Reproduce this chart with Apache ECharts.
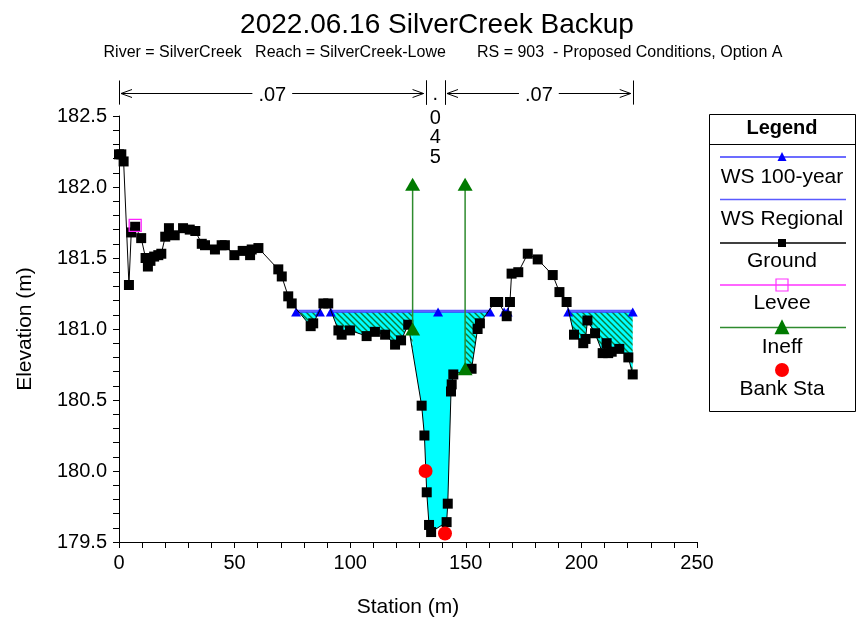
<!DOCTYPE html>
<html><head><meta charset="utf-8">
<script src="https://cdn.jsdelivr.net/npm/echarts@6/dist/echarts.min.js"></script>
<style>html,body{margin:0;padding:0;background:#fff}#c{width:861px;height:625px}</style>
</head><body><div id="c"></div>
<script>
// ---------------- data ----------------
const titleText = '2022.06.16 SilverCreek Backup';
const subtitleText = 'River = SilverCreek   Reach = SilverCreek-Lowe       RS = 903  - Proposed Conditions, Option A';

const groundX = [0, 1, 2, 4.3, 5.3, 7, 9.6, 11.5, 12.5, 13.6, 15.2, 17, 18.3, 20, 21.6, 24.1, 27.7, 30.6, 33, 35.8,
  37.2, 41.5, 44.4, 45.8, 49.9, 53.5, 56.7, 57.4, 60.3, 68.9, 70.4, 73.2, 74.7, 82.9, 84, 88.4, 90.5, 94.9, 96.3, 99.9,
  107.1, 110.7, 115.1, 119.4, 122, 125.1, 130.9, 132.1, 133.1, 134.1, 135, 141.7, 142.2, 143.6, 143.9, 144.6, 152.5, 155.1, 156.1, 162.6,
  164, 167.7, 169.1, 169.8, 172.7, 176.8, 181.1, 187.6, 190.5, 193.6, 196.8, 200.8, 201.8, 202.6, 205.9, 209.2, 210.9, 211.6, 213.1, 216.4,
  220.3, 222.2];
const groundY = [182.23, 182.23, 182.18, 181.31, 181.68, 181.72, 181.64, 181.50, 181.44, 181.48, 181.51, 181.52, 181.53, 181.65, 181.71, 181.66, 181.71, 181.70, 181.69, 181.60,
  181.59, 181.56, 181.59, 181.59, 181.52, 181.55, 181.52, 181.56, 181.57, 181.42, 181.37, 181.23, 181.18, 181.02, 181.04, 181.18, 181.18, 180.99, 180.96, 180.99,
  180.95, 180.98, 180.96, 180.89, 180.92, 181.03, 180.46, 180.25, 179.85, 179.62, 179.57, 179.64, 179.77, 180.56, 180.61, 180.68, 180.72, 181.00, 181.04, 181.19,
  181.19, 181.09, 181.19, 181.39, 181.40, 181.53, 181.49, 181.38, 181.26, 181.19, 180.96, 180.90, 180.93, 181.06, 180.97, 180.83, 180.90, 180.83, 180.84, 180.86,
  180.80, 180.68];

const leveeX = [7.0];
const leveeY = [181.73];

const ws100Elev = 181.12;
const wsRegionalElev = 181.13;
// WS stations and the segment each belongs to (segments are separated by dry ground)
const wsStations = [76.6, 86.9, 91.6, 138.0, 160.5, 166.6, 168.1, 194.3, 222.2];
const wsSegment  = [0, 0, 1, 1, 1, 2, 2, 3, 3];

const ineffLeftX = [127.0, 127.0];
const ineffLeftY = [181.00, 182.02];
const ineffRightX = [149.7, 149.7];
const ineffRightY = [180.72, 182.02];

const bankX = [132.6, 141.0];
const bankY = [180.00, 179.56];

// flow area limits: main channel between ineffective stations, hatched ineffective overbanks
const mainFlowX = [127.0, 149.7];
const leftIneffFlowX = [76.6, 127.0];
const rightIneffFlowX = [149.7, 222.2];

// Manning's n breaks
const nStations = [0, 132.6, 141.0, 222.2];
const nValues = ['.07', '.045', '.07'];
const nArrowElev = 182.66, nBarTop = 182.75, nBarBottom = 182.58;

const xMin = 0, xMax = 250, xTickStep = 10, xLabelStep = 50;
const yMin = 179.5, yMax = 182.5, yTickStep = 0.1, yLabelStep = 0.5;

// ---------------- helpers ----------------
const FONT = '"Liberation Sans", Arial, Helvetica, sans-serif';
const mctx = document.createElement('canvas').getContext('2d');
function textW(t, size, weight) { mctx.font = (weight || 'normal') + ' ' + size + 'px ' + FONT; return mctx.measureText(t).width; }

function hatchPattern() {
  const s = 6;
  const c = document.createElement('canvas'); c.width = s; c.height = s;
  const g = c.getContext('2d');
  g.fillStyle = '#00ffff'; g.fillRect(0, 0, s, s);
  g.strokeStyle = '#0a7a3a'; g.lineWidth = 1.4;
  g.beginPath();
  g.moveTo(-1, -1); g.lineTo(s + 1, s + 1);
  g.moveTo(-1, s - 1); g.lineTo(1, s + 1);
  g.moveTo(s - 1, -1); g.lineTo(s + 1, 1);
  g.stroke();
  return c;
}
const hatch = { image: hatchPattern(), repeat: 'repeat' };

const ground = groundX.map((x, i) => [x, groundY[i]]);
// white mask below ground, carried flat to the axis end so no fill sliver shows past the last station
const groundMask = ground.concat([[xMax, groundY[groundY.length - 1]]]);
function wsData(elev) {
  const out = [];
  wsStations.forEach((x, i) => {
    if (i > 0 && wsSegment[i] !== wsSegment[i - 1]) out.push([(x + wsStations[i - 1]) / 2, '-']);
    out.push([x, elev]);
  });
  return out;
}
function isMult(v, step) { const r = v / step; return Math.abs(r - Math.round(r)) < 1e-6; }

const chart = echarts.init(document.getElementById('c'), null, { renderer: 'canvas' });

// legend drawn as graphic (icon above text, like the original)
const LG = { x: 709, y: 114, w: 146, h: 297 };
const lx1 = 720, lx2 = 846, lcx = 782;
const legendEls = [
  { type: 'rect', shape: { x: LG.x + 0.5, y: LG.y + 0.5, width: LG.w, height: LG.h }, style: { fill: '#fff', stroke: '#000', lineWidth: 1 } },
  { type: 'line', shape: { x1: LG.x, y1: 144.5, x2: LG.x + LG.w, y2: 144.5 }, style: { stroke: '#000', lineWidth: 1 } },
  { type: 'text', style: { text: 'Legend', x: lcx, y: 128, align: 'center', verticalAlign: 'middle', font: 'bold 20px ' + FONT, fill: '#000' } },
];
const legendItems = [
  { name: 'WS 100-year', ly: 157, ty: 177, color: '#3b3bff', marker: 'tri', mcolor: '#0000ff', ms: 9 },
  { name: 'WS Regional', ly: 199.5, ty: 219, color: '#5a5aff', marker: null },
  { name: 'Ground', ly: 243, ty: 261, color: '#000', marker: 'square', mcolor: '#000', ms: 8 },
  { name: 'Levee', ly: 285, ty: 303, color: '#ff33ff', marker: 'osquare', mcolor: '#ff33ff', ms: 12 },
  { name: 'Ineff', ly: 327.5, ty: 347, color: '#2e8b2e', marker: 'tri', mcolor: '#007a00', ms: 15 },
  { name: 'Bank Sta', ly: 370, ty: 389, color: null, marker: 'circle', mcolor: '#ff0000', ms: 14 },
];
legendItems.forEach(it => {
  if (it.color) legendEls.push({ type: 'line', shape: { x1: lx1, y1: it.ly, x2: lx2, y2: it.ly }, style: { stroke: it.color, lineWidth: 1.5 } });
  const s = it.ms;
  if (it.marker === 'tri') legendEls.push({ type: 'polygon', shape: { points: [[lcx, it.ly - s * 0.55], [lcx - s / 2, it.ly + s * 0.45], [lcx + s / 2, it.ly + s * 0.45]] }, style: { fill: it.mcolor } });
  if (it.marker === 'square') legendEls.push({ type: 'rect', shape: { x: lcx - s / 2, y: it.ly - s / 2, width: s, height: s }, style: { fill: it.mcolor } });
  if (it.marker === 'osquare') legendEls.push({ type: 'rect', shape: { x: lcx - s / 2, y: it.ly - s / 2, width: s, height: s }, style: { fill: 'none', stroke: it.mcolor, lineWidth: 1.2 } });
  if (it.marker === 'circle') legendEls.push({ type: 'circle', shape: { cx: lcx, cy: it.ly, r: s / 2 }, style: { fill: it.mcolor } });
  legendEls.push({ type: 'text', style: { text: it.name, x: lcx, y: it.ty, align: 'center', verticalAlign: 'middle', font: '21px ' + FONT, fill: '#000' } });
});

const titleSize = 28, subSize = 16, tickSize = 20, nameSize = 21;
const option = {
  animation: false,
  backgroundColor: '#fff',
  title: [
    { text: titleText, left: 432 - textW(titleText, titleSize) / 2, top: 6, textStyle: { fontFamily: FONT, fontSize: titleSize, fontWeight: 'normal', color: '#000' } },
    { text: subtitleText, left: 438 - textW(subtitleText, subSize) / 2, top: 40, textStyle: { fontFamily: FONT, fontSize: subSize, fontWeight: 'normal', color: '#000' } }
  ],
  grid: { left: 119, right: 164, top: 116, bottom: 83, containLabel: false },
  xAxis: {
    type: 'value', min: xMin, max: xMax, interval: xTickStep, z: 10,
    name: 'Station (m)', nameLocation: 'middle', nameGap: 55,
    nameTextStyle: { fontFamily: FONT, fontSize: nameSize, color: '#000' },
    axisLine: { show: true, onZero: false, lineStyle: { color: '#000', width: 1 } },
    axisTick: { show: true, length: 6, lineStyle: { color: '#000' } },
    axisLabel: { fontFamily: FONT, fontSize: tickSize, color: '#000', margin: 11, formatter: v => isMult(v, xLabelStep) ? String(Math.round(v)) : '' },
    splitLine: { show: false }
  },
  yAxis: {
    type: 'value', min: yMin, max: yMax, interval: yTickStep, z: 10,
    name: 'Elevation (m)', nameLocation: 'middle', nameGap: 83, nameRotate: 90,
    nameTextStyle: { fontFamily: FONT, fontSize: nameSize, color: '#000' },
    axisLine: { show: true, onZero: false, lineStyle: { color: '#000', width: 1 } },
    axisTick: { show: true, length: 6, lineStyle: { color: '#000' } },
    axisLabel: { fontFamily: FONT, fontSize: tickSize, color: '#000', margin: 12, formatter: v => isMult(v, yLabelStep) ? v.toFixed(1) : '' },
    splitLine: { show: false }
  },
  graphic: legendEls,
  series: [
    { name: 'mainFlow', type: 'line', silent: true, z: 1, symbol: 'none', lineStyle: { opacity: 0, width: 0 },
      areaStyle: { color: '#00ffff', opacity: 1, origin: 'start' }, data: mainFlowX.map(x => [x, ws100Elev]) },
    { name: 'leftIneffFlow', type: 'line', silent: true, z: 1, symbol: 'none', lineStyle: { opacity: 0, width: 0 },
      areaStyle: { color: hatch, opacity: 1, origin: 'start' }, data: leftIneffFlowX.map(x => [x, ws100Elev]) },
    { name: 'rightIneffFlow', type: 'line', silent: true, z: 1, symbol: 'none', lineStyle: { opacity: 0, width: 0 },
      areaStyle: { color: hatch, opacity: 1, origin: 'start' }, data: rightIneffFlowX.map(x => [x, ws100Elev]) },
    { name: 'groundMask', type: 'line', silent: true, z: 2, symbol: 'none', lineStyle: { opacity: 0, width: 0 },
      areaStyle: { color: '#ffffff', opacity: 1, origin: 'start' }, data: groundMask },
    { name: 'WS Regional', type: 'line', z: 3, symbol: 'none', connectNulls: false,
      lineStyle: { color: '#5a5aff', width: 1.5 }, data: wsData(wsRegionalElev) },
    { name: 'WS 100-year', type: 'line', z: 4, symbol: 'triangle', symbolSize: [10, 9], connectNulls: false,
      itemStyle: { color: '#0000ff', opacity: 1 }, lineStyle: { color: '#3b3bff', width: 1.5 }, data: wsData(ws100Elev) },
    { name: 'Ground', type: 'line', z: 5, symbol: 'rect', symbolSize: 10,
      itemStyle: { color: '#000', opacity: 1 }, lineStyle: { color: '#000', width: 1 }, data: ground },
    { name: 'Levee', type: 'scatter', z: 6, symbol: 'rect', symbolSize: 12,
      itemStyle: { color: 'rgba(0,0,0,0)', borderColor: '#ff22ff', borderWidth: 1.3, opacity: 1 }, data: leveeX.map((x, i) => [x, leveeY[i]]) },
    { name: 'Ineff', type: 'line', z: 7, symbol: 'triangle', symbolSize: [15, 13],
      itemStyle: { color: '#007a00', opacity: 1 }, lineStyle: { color: '#2e8b2e', width: 1.5 }, data: ineffLeftX.map((x, i) => [x, ineffLeftY[i]]) },
    { name: 'Ineff R', type: 'line', z: 7, symbol: 'triangle', symbolSize: [15, 13],
      itemStyle: { color: '#007a00', opacity: 1 }, lineStyle: { color: '#2e8b2e', width: 1.5 }, data: ineffRightX.map((x, i) => [x, ineffRightY[i]]) },
    { name: 'Bank Sta', type: 'scatter', z: 8, symbol: 'circle', symbolSize: 14,
      itemStyle: { color: '#ff0000', opacity: 1 }, data: bankX.map((x, i) => [x, bankY[i]]) },
    { name: 'n values', type: 'custom', z: 9, silent: true, clip: false,
      encode: { x: [0, 1], y: 2 },
      data: nValues.map((v, i) => [nStations[i], nStations[i + 1], nArrowElev]),
      renderItem: function (params, api) {
        const i = params.dataIndex;
        const x1 = api.value(0), x2 = api.value(1);
        const t1 = api.coord([x1, nBarTop]), b1 = api.coord([x1, nBarBottom]);
        const t2 = api.coord([x2, nBarTop]), b2 = api.coord([x2, nBarBottom]);
        const a = api.coord([x1, nArrowElev]), b = api.coord([x2, nArrowElev]);
        const ls = { stroke: '#000', lineWidth: 1 };
        const ch = [];
        const px = v => Math.round(v) + 0.5;
        ch.push({ type: 'line', shape: { x1: px(t1[0]), y1: t1[1], x2: px(b1[0]), y2: b1[1] }, style: ls });
        ch.push({ type: 'line', shape: { x1: px(t2[0]), y1: t2[1], x2: px(b2[0]), y2: b2[1] }, style: ls });
        const label = nValues[i];
        const y = px(a[1]);
        const w = b[0] - a[0];
        const fs = 20;
        if (w > 60) {
          const tw = textW(label, fs);
          const cx = (a[0] + b[0]) / 2;
          const l1 = a[0] + 2, l2 = cx - tw / 2 - 6, r1 = cx + tw / 2 + 6, r2 = b[0] - 2;
          ch.push({ type: 'line', shape: { x1: l1, y1: y, x2: l2, y2: y }, style: ls });
          ch.push({ type: 'line', shape: { x1: r1, y1: y, x2: r2, y2: y }, style: ls });
          ch.push({ type: 'polyline', shape: { points: [[l1 + 11, y - 4], [l1, y], [l1 + 11, y + 4]] }, style: { stroke: '#000', lineWidth: 1, fill: null } });
          ch.push({ type: 'polyline', shape: { points: [[r2 - 11, y - 4], [r2, y], [r2 - 11, y + 4]] }, style: { stroke: '#000', lineWidth: 1, fill: null } });
          ch.push({ type: 'text', style: { text: label, x: cx, y: y + 2, align: 'center', verticalAlign: 'middle', font: fs + 'px ' + FONT, fill: '#000' } });
        } else {
          const cx = (a[0] + b[0]) / 2;
          label.split('').forEach((c, k) => {
            ch.push({ type: 'text', style: { text: c, x: cx, y: y + (c === '.' ? 1 : 5) + k * 19.5, align: 'center', verticalAlign: 'middle', font: fs + 'px ' + FONT, fill: '#000' } });
          });
        }
        return { type: 'group', children: ch };
      }
    }
  ]
};
chart.setOption(option);
</script>
</body></html>
